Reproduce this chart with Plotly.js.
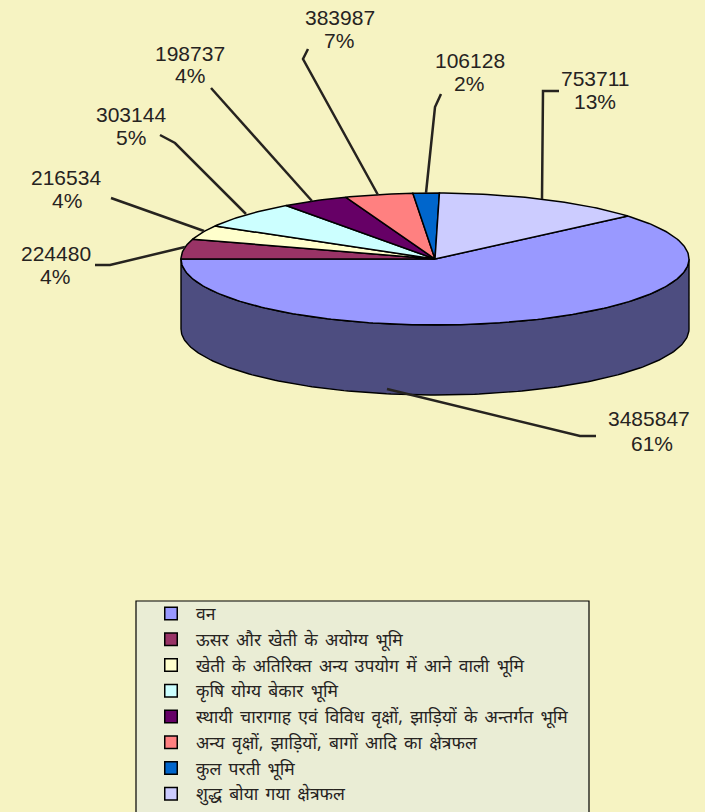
<!DOCTYPE html>
<html><head><meta charset="utf-8">
<script src="https://cdn.plot.ly/plotly-3.0.1.min.js"></script>
<style>html,body{margin:0;padding:0;width:705px;height:812px;overflow:hidden;background:#F6F3C2}
.legendtext{word-spacing:2.7px}</style>
</head><body><div id="chart"></div>
<script>
const categories = ["वन","ऊसर और खेती के अयोग्य भूमि","खेती के अतिरिक्त अन्य उपयोग में आने वाली भूमि","कृषि योग्य बेकार भूमि","स्थायी चारागाह एवं विविध वृक्षों, झाड़ियों के अन्तर्गत भूमि","अन्य वृक्षों, झाड़ियों, बागों आदि का क्षेत्रफल","कुल परती भूमि","शुद्ध बोया गया क्षेत्रफल"];
const values = [3485847,224480,216534,303144,198737,383987,106128,753711];
// slice widths as drawn in the picture, in degrees of the pie
const drawnSweep = [220.6,17.5,12.5,24.1,15.3,15.6,6,48.4];
const colors = ["#9999FF","#993366","#FFFFCC","#CCFFFF","#660066","#FF8080","#0066CC","#CCCCFF"];
const wallColor = "#4D4D80";
const bg = "#F6F3C2", ink = "#26231F";

const W = 705, H = 840;
const cx = 435, cy = 259, rx = 254, ry = 66, depth = 70;

const labelX = [649,56,66,131,190,340,470,595];
const pctX = [652,55,67,131,190,339,469,595];
const labelY1 = [418.5,253,177,114,53,17,60,78];
const labelY2 = [443.5,276,200,137,75,40,83,101];
const leaderX = [[596,580,387],[95,110,185],[111,204],[160,175,246],[211,312],[308,303,378],[441,435,426],[559,543,542]];
const leaderY = [[436,436,389],[265,265,247],[198,231],[135,143,214],[88,201],[49,59,195],[94,107,193],[91,91,199]];

const total = values.reduce((a,b)=>a+b,0);
const rad = d => d*Math.PI/180;
const px = a => cx + rx*Math.sin(rad(a));
const py = a => cy - ry*Math.cos(rad(a));
function arc(a0,a1,dy){
  const n = Math.max(2,Math.ceil(Math.abs(a1-a0)));
  const xs=[],ys=[];
  for(let i=0;i<=n;i++){const a=a0+(a1-a0)*i/n;xs.push(px(a));ys.push(py(a)+dy);}
  return [xs,ys];
}
const traces = [];
// side wall of the front half
const [tx,ty] = arc(90,270,0), [bx,by] = arc(270,90,depth);
traces.push({x:tx.concat(bx,[tx[0]]),y:ty.concat(by,[ty[0]]),mode:'lines',fill:'toself',fillcolor:wallColor,
  line:{color:'#000',width:1.4},showlegend:false,hoverinfo:'skip'});
// slices, clockwise, the first one ending at the nine o'clock position
let ang = 270 - drawnSweep[0];
drawnSweep.forEach((sweep,i)=>{
  const [ax,ay] = arc(ang,ang+sweep,0);
  traces.push({x:[cx].concat(ax,[cx]),y:[cy].concat(ay,[cy]),mode:'lines',fill:'toself',fillcolor:colors[i],
    line:{color:'#000',width:1.5},showlegend:false,name:categories[i],hoverinfo:'name'});
  ang += sweep;
});
// leader lines
leaderX.forEach((lx,i)=>traces.push({x:lx,y:leaderY[i],mode:'lines',line:{color:ink,width:2.5},showlegend:false,hoverinfo:'skip'}));
// legend entries
categories.forEach((c,i)=>traces.push({x:[null],y:[null],mode:'markers',name:c,legendgroup:'g'+i,showlegend:true,
  marker:{symbol:'square',size:12.5,color:colors[i],line:{color:'#000',width:1.5}},hoverinfo:'skip'}));

const annotations = [];
values.forEach((v,i)=>{
  const pct = Math.round(v/total*100)+'%';
  [[String(v),labelX[i],labelY1[i]],[pct,pctX[i],labelY2[i]]].forEach(([t,x,y])=>annotations.push({
    x:x,y:y,xref:'x',yref:'y',text:t,showarrow:false,xanchor:'center',yanchor:'middle',
    font:{family:'Liberation Sans, Arial, sans-serif',size:21,color:ink}}));
});

Plotly.newPlot('chart',traces,{
  width:W,height:H,margin:{l:0,r:0,t:0,b:0,pad:0},
  paper_bgcolor:bg,plot_bgcolor:bg,showlegend:true,
  xaxis:{range:[0,W],visible:false,fixedrange:true},
  yaxis:{range:[H,0],visible:false,fixedrange:true},
  annotations,
  shapes:[{type:'rect',xref:'x',yref:'y',x0:136,x1:589,y0:601,y1:H+10,fillcolor:'#EAEDD5',line:{color:'#000',width:1.2},layer:'below'}],
  legend:{x:146/W,xanchor:'left',y:1-595.5/H,yanchor:'top',bgcolor:'rgba(0,0,0,0)',borderwidth:0,itemwidth:40,
    tracegroupgap:0,traceorder:'grouped',font:{family:'Noto Sans, Noto Sans Devanagari, DejaVu Sans, sans-serif',size:17.5,color:ink},itemclick:false,itemdoubleclick:false}
},{displayModeBar:false,staticPlot:true});
</script></body></html>
